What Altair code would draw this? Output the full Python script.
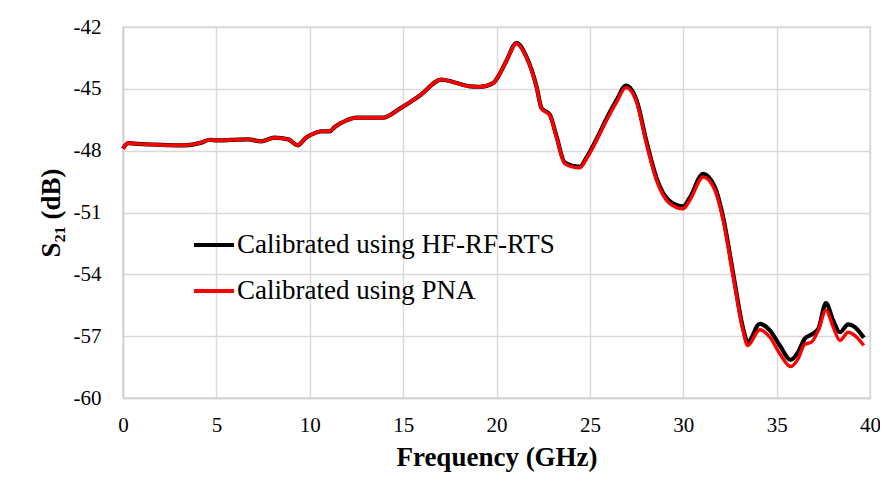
import altair as alt
import pandas as pd

# Frequency points (GHz)
freq = [0.0, 0.27, 0.63, 1.5, 2.77, 3.3, 4.2, 4.64, 4.9, 5.8, 6.7, 7.4, 8.1, 8.85,
        9.35, 9.8, 10.27, 10.6, 11.07, 11.34, 11.97, 12.5, 13.93, 14.82, 15.9,
        17.05, 17.67, 18.57, 19.1, 19.82, 20.18, 20.54, 21.07, 21.6, 22.14, 22.41,
        22.86, 23.21, 23.66, 24.46, 24.82, 25.36, 25.89, 26.43, 26.93, 27.5, 28.03,
        28.57, 29.28, 30.0, 30.35, 31.07, 31.7, 32.14, 32.68, 33.2, 33.45, 34.1,
        34.64, 35.17, 35.75, 36.15, 36.5, 36.87, 37.23, 37.64, 38.03, 38.39, 38.83,
        39.19, 39.67]

# S21 (dB) calibrated using PNA (red)
s21_pna = [-47.90, -47.63, -47.66, -47.70, -47.74, -47.74, -47.61, -47.47, -47.50,
           -47.48, -47.45, -47.55, -47.37, -47.45, -47.74, -47.37, -47.15, -47.06,
           -47.06, -46.85, -46.53, -46.40, -46.40, -45.96, -45.32, -44.55, -44.67,
           -44.88, -44.90, -44.72, -44.26, -43.62, -42.80, -43.46, -44.91, -45.96,
           -46.29, -47.34, -48.63, -48.83, -48.39, -47.50, -46.53, -45.64, -44.94,
           -45.64, -47.66, -49.44, -50.57, -50.82, -50.41, -49.28, -49.93, -51.38,
           -54.14, -56.72, -57.45, -56.69, -57.05, -57.85, -58.47, -58.10, -57.40,
           -57.29, -56.72, -55.75, -56.56, -57.21, -56.81, -56.97, -57.45]

# S21 (dB) calibrated using HF-RF-RTS (black)
s21_rts = [-47.90, -47.63, -47.66, -47.70, -47.74, -47.74, -47.61, -47.47, -47.50,
           -47.48, -47.45, -47.55, -47.37, -47.45, -47.74, -47.37, -47.15, -47.06,
           -47.06, -46.85, -46.53, -46.40, -46.40, -45.96, -45.32, -44.55, -44.67,
           -44.88, -44.90, -44.72, -44.26, -43.62, -42.78, -43.44, -44.88, -45.93,
           -46.26, -47.30, -48.58, -48.78, -48.33, -47.43, -46.45, -45.55, -44.84,
           -45.55, -47.55, -49.33, -50.45, -50.70, -50.28, -49.12, -49.78, -51.25,
           -54.00, -56.60, -57.29, -56.40, -56.72, -57.45, -58.15, -57.78, -57.13,
           -56.92, -56.65, -55.40, -56.24, -56.81, -56.43, -56.56, -57.08]

series_names = ["Calibrated using HF-RF-RTS", "Calibrated using PNA"]
series_colors = ["#000000", "#ff0000"]

x_ticks = [0, 5, 10, 15, 20, 25, 30, 35, 40]
y_ticks = [-60, -57, -54, -51, -48, -45, -42]

df = pd.concat([
    pd.DataFrame({"f": freq, "s21": s21_rts, "series": series_names[0]}),
    pd.DataFrame({"f": freq, "s21": s21_pna, "series": series_names[1]}),
])

FONT = "Liberation Serif"

x_enc = alt.X("f:Q", scale=alt.Scale(domain=[0, 40], nice=False),
              axis=alt.Axis(values=x_ticks, title="Frequency (GHz)",
                            labelExpr="toString(datum.value)", labelFlush=False,
                            labelPadding=16, titlePadding=9, titleFontSize=27))
y_enc = alt.Y("s21:Q", scale=alt.Scale(domain=[-60, -42], nice=False, zero=False),
              axis=alt.Axis(values=y_ticks, title="S₂₁ (dB)",
                            labelExpr="toString(datum.value)", labelFlush=False,
                            labelPadding=22, titlePadding=8, titleFontSize=27))
color_enc = alt.Color("series:N",
                      scale=alt.Scale(domain=series_names, range=series_colors),
                      legend=alt.Legend(title=None, orient="none", legendX=69, legendY=196,
                                        symbolType="stroke", symbolSize=1600,
                                        symbolStrokeWidth=4, labelFont=FONT,
                                        labelFontSize=27, labelColor="#000000",
                                        labelOffset=1, rowPadding=11, padding=0,
                                        labelLimit=600))

base = alt.Chart(df).encode(x=x_enc, y=y_enc, color=color_enc)

black_line = base.transform_filter(alt.datum.series == series_names[0]).mark_line(
    strokeWidth=4.2, interpolate="monotone")
red_line = base.transform_filter(alt.datum.series == series_names[1]).mark_line(
    strokeWidth=3.4, interpolate="monotone")

chart = alt.layer(black_line, red_line).properties(
    width=747, height=371,
    autosize=alt.AutoSizeParams(type="none"),
    padding={"left": 115, "top": 19, "right": 10, "bottom": 80},
    background="white",
).configure_view(
    stroke="#d9d9d9", strokeWidth=1.5
).configure_axis(
    labelFont=FONT, labelFontSize=21, labelColor="#000000",
    titleFont=FONT, titleFontWeight="bold", titleColor="#000000",
    gridColor="#d9d9d9", gridWidth=1.5, domainColor="#d0d0d0", domainWidth=1.5,
    ticks=False,
)

chart.save("out.html", embed_options={"renderer": "svg", "actions": False})
